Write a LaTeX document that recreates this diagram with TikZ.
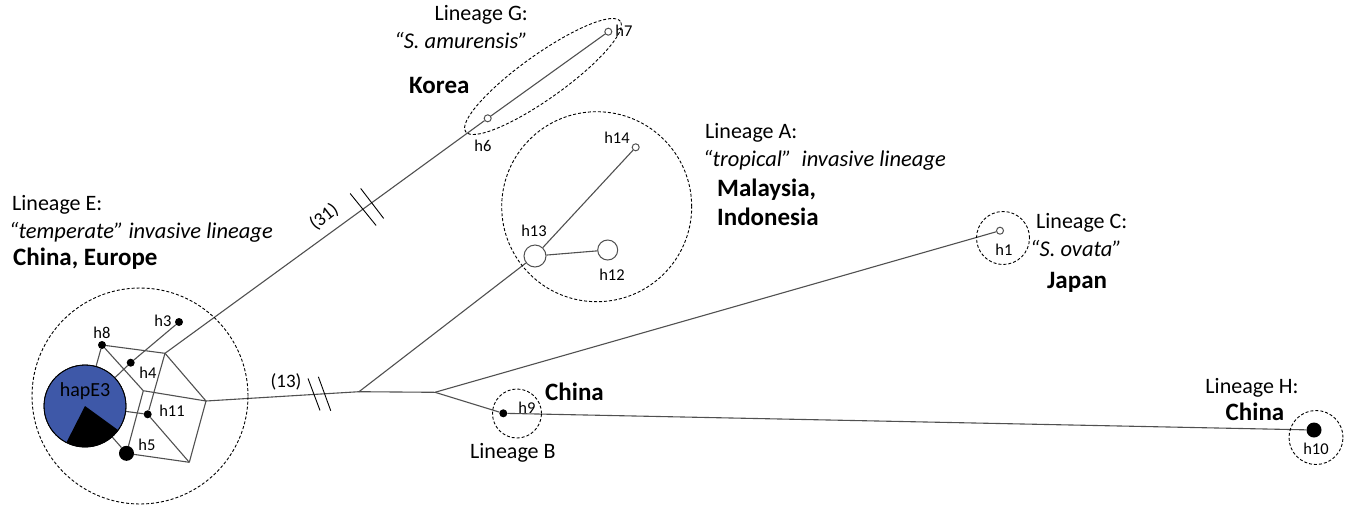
\documentclass[tikz,border=0pt]{standalone}
\usepackage{fontspec}
\setmainfont{Carlito}
\usetikzlibrary{calc}
\definecolor{netline}{RGB}{80,80,80}
\definecolor{hapblue}{RGB}{62,88,168}
\pgfdeclarelayer{bg}
\pgfsetlayers{bg,main}
\begin{document}
\begin{tikzpicture}[x=1pt,y=1pt,
  edge/.style={draw=netline,line width=1.1pt},
  bdot/.style={circle,fill=black,draw=none,inner sep=0pt,minimum size=#1},
  odot/.style={circle,draw=netline,fill=white,line width=1pt,inner sep=0pt,minimum size=#1},
  grp/.style={draw=black,dash pattern=on 3pt off 2pt,line width=0.9pt},
  hl/.style={font=\fontsize{16.5}{18}\selectfont,inner sep=0pt},
  lin/.style={font=\fontsize{22}{24}\selectfont,inner sep=0pt},
  lini/.style={font=\fontsize{22.5}{24}\selectfont\itshape,inner sep=0pt},
  reg/.style={font=\fontsize{25}{28}\selectfont\bfseries,inner sep=0pt},
  brk/.style={draw=black,line width=0.9pt},
]
\useasboundingbox (0,0) rectangle (1347,-507);

% haplotype E3 pie
\node[circle,fill=hapblue,draw=black,line width=0.8pt,minimum size=82pt,inner sep=0pt] (hapE3) at (85,-406) {};
\fill[black] (hapE3.center) -- ++(-117:41) arc[start angle=-117,end angle=-36,radius=41] -- cycle;
\draw[black,line width=0.8pt] (hapE3.center) circle[radius=41];
\node[inner sep=0pt,font=\fontsize{20}{22}\selectfont] (lhapE3) at (85,-391) {hapE3};

% lineage E nodes
\node[bdot=8pt] (h8) at (102,-345) {};
\node[bdot=8pt] (h3) at (179,-322) {};
\node[bdot=8pt] (h4) at (130.7,-362.7) {};
\node[bdot=8pt] (h11) at (147.7,-414.3) {};
\node[bdot=15pt] (h5) at (126.5,-453.3) {};
\coordinate (A) at (165,-353.3);
\coordinate (B) at (206,-401);
\coordinate (C) at (189.3,-462.3);
\coordinate (D) at (143.3,-390.7);
\coordinate (J1) at (359,-391.7);
\coordinate (J2) at (435,-392.3);

% other haplotypes
\node[odot=7pt] (h6) at (487.7,-118.3) {};
\node[odot=7pt] (h7) at (608.3,-31.7) {};
\node[odot=22pt] (h13) at (535,-256) {};
\node[odot=20pt] (h12) at (607.7,-250) {};
\node[odot=7pt] (h14) at (635.7,-147.3) {};
\node[odot=7pt] (h1) at (1000,-230.7) {};
\node[bdot=8pt] (h9) at (503.3,-413.3) {};
\node[bdot=15pt] (h10) at (1314,-430) {};

\begin{pgfonlayer}{bg}
\draw[edge] (h8) -- (A);
\draw[edge] (h8) -- (D);
\draw[edge] (A) -- (B);
\draw[edge] (D) -- (B);
\draw[edge] (hapE3) -- (h11);
\draw[edge] (hapE3) -- (h5);
\draw[edge] (h11) -- (C);
\draw[edge] (h5) -- (C);
\draw[edge] (h8) -- (hapE3);
\draw[edge] (A) -- (h11);
\draw[edge] (D) -- (h5);
\draw[edge] (B) -- (C);
\draw[edge] (hapE3) -- (h4);
\draw[edge] (h4) -- (h3);
\draw[edge] (A) -- (h6);
\draw[edge] (h6) -- (h7);
\draw[edge] (B) -- (J1);
\draw[edge] (J1) -- (J2);
\draw[edge] (J2) -- (h9);
\draw[edge] (h9) -- (h10);
\draw[edge] (J1) -- (h13);
\draw[edge] (h13) -- (h14);
\draw[edge] (h13) -- (h12);
\draw[edge] (J2) -- (h1);
% group outlines
\draw[grp] (140,-396) circle[radius=108];
\draw[grp] (543,-76.5) ellipse[x radius=95,y radius=22,rotate=35.5];
\draw[grp] (596.7,-206.7) circle[radius=95];
\draw[grp] (1003,-238) circle[radius=26.5];
\draw[grp] (517,-413.5) circle[radius=24.5];
\draw[grp] (1316,-437.5) circle[radius=27];
\end{pgfonlayer}

% break marks
\coordinate (k31a) at ($(A)!0.614!(h6)$);
\coordinate (k31b) at ($(A)!0.642!(h6)$);
\draw[brk] ($(k31a)+(-13,15.5)$) -- ($(k31a)+(13,-16.5)$);
\draw[brk] ($(k31b)+(-11.5,14)$) -- ($(k31b)+(11.5,-16)$);
\coordinate (k13a) at ($(B)!0.706!(J1)$);
\coordinate (k13b) at ($(B)!0.775!(J1)$);
\draw[brk] ($(k13a)+(-6,16)$) -- ($(k13a)+(6,-16)$);
\draw[brk] ($(k13b)+(-6.2,17)$) -- ($(k13b)+(6.2,-17)$);
\node[inner sep=0pt,font=\fontsize{19}{22}\selectfont,rotate=38] (l31) at (324,-217) {(31)};
\node[inner sep=0pt,font=\fontsize{19}{22}\selectfont] (l13) at (286,-382) {(13)};

% haplotype labels
\node[hl] (lh8) at (102,-333) {h8};
\node[hl] (lh3) at (163,-321) {h3};
\node[hl] (lh4) at (148,-373) {h4};
\node[hl] (lh11) at (172,-411) {h11};
\node[hl] (lh5) at (147,-445) {h5};
\node[hl] (lh6) at (483,-146) {h6};
\node[hl] (lh7) at (624,-31) {h7};
\node[hl] (lh14) at (617,-138) {h14};
\node[hl] (lh13) at (534,-231) {h13};
\node[hl] (lh12) at (612,-275) {h12};
\node[hl] (lh1) at (1004,-250) {h1};
\node[hl] (lh9) at (527,-408) {h9};
\node[hl] (lh10) at (1316,-449) {h10};

% lineage labels
\node[lin,anchor=west] (tE1) at (12,-205) {Lineage E:};
\node[lini,anchor=west] (tE2) at (9,-232) {“temperate” invasive lineage};
\node[reg,anchor=west] (tE3) at (13,-259) {China, Europe};

\node[lin,anchor=east] (tG1) at (528,-15) {Lineage G:};
\node[lini,anchor=east] (tG2) at (528,-40) {“S. amurensis”};
\node[reg,anchor=west] (tG3) at (409,-85) {Korea};

\node[lin,anchor=west] (tA1) at (705,-133) {Lineage A:};
\node[lini,anchor=west] (tA2) at (703,-160) {“tropical”\ \ invasive lineage};
\node[reg,anchor=west] (tA3) at (717,-190) {Malaysia,};
\node[reg,anchor=west] (tA4) at (717,-217) {Indonesia};

\node[lin,anchor=west] (tC1) at (1036,-223) {Lineage C:};
\node[lini,anchor=west] (tC2) at (1030,-248) {“S. ovata”};
\node[reg,anchor=west] (tC3) at (1047,-282) {Japan};

\node[lin] (tH1) at (1252,-388) {Lineage H:};
\node[reg] (tH2) at (1255,-412) {China};

\node[reg,anchor=west] (tB1) at (545,-392) {China};
\node[lin,anchor=west] (tB2) at (470,-453) {Lineage B};
\end{tikzpicture}
\end{document}
